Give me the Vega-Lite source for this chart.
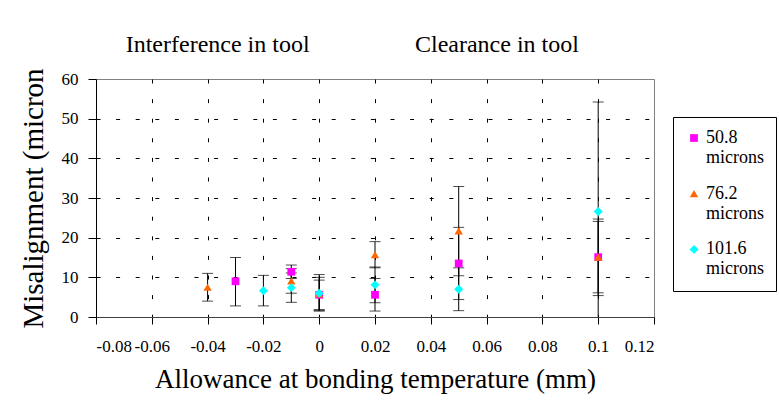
{
  "$schema": "https://vega.github.io/schema/vega-lite/v6.json",
  "width": 558,
  "height": 238,
  "autosize": {"type": "none"},
  "padding": {"left": 96, "top": 79, "right": 125, "bottom": 86},
  "background": "white",
  "config": {
    "font": "Liberation Serif",
    "view": {"stroke": "#808080", "strokeWidth": 1},
    "text": {"font": "Liberation Serif"},
    "legend": {"labelFont": "Liberation Serif", "titleFont": "Liberation Serif"},
    "axis": {
      "labelFont": "Liberation Serif",
      "titleFont": "Liberation Serif",
      "labelColor": "black",
      "titleColor": "black",
      "titleFontWeight": "normal",
      "labelFontSize": 17,
      "tickColor": "black",
      "gridDash": [4, 15.6],
      "gridWidth": 1,
      "labelOverlap": false
    },
    "axisX": {
      "labelFont": "Liberation Serif",
      "titleFont": "Liberation Serif",
      "domainColor": "#404040",
      "tickSize": 7,
      "labelPadding": 14,
      "titleFontSize": 27,
      "titlePadding": 12
    },
    "axisY": {
      "labelFont": "Liberation Serif",
      "titleFont": "Liberation Serif",
      "domainColor": "black",
      "tickSize": 8,
      "labelPadding": 10,
      "titleFontSize": 29,
      "titlePadding": 13
    }
  },
  "datasets": {
    "points": [
      {"s": "50.8 microns", "x": -0.03, "y": 9.0, "lo": 2.8, "hi": 15.0},
      {"s": "50.8 microns", "x": -0.01, "y": 11.4, "lo": 9.7, "hi": 13.1},
      {"s": "50.8 microns", "x": 0, "y": 5.6, "lo": 1.9, "hi": 9.3},
      {"s": "50.8 microns", "x": 0.02, "y": 5.6, "lo": 1.5, "hi": 9.7},
      {"s": "50.8 microns", "x": 0.05, "y": 13.5, "lo": 4.4, "hi": 22.6},
      {"s": "50.8 microns", "x": 0.1, "y": 15.1, "lo": 6.1, "hi": 24.1},
      {"s": "76.2 microns", "x": -0.04, "y": 7.5, "lo": 4.0, "hi": 11.0},
      {"s": "76.2 microns", "x": -0.01, "y": 9.1, "lo": 6.0, "hi": 12.2},
      {"s": "76.2 microns", "x": 0, "y": 5.8, "lo": 1.6, "hi": 10.0},
      {"s": "76.2 microns", "x": 0.02, "y": 15.7, "lo": 12.4, "hi": 19.0},
      {"s": "76.2 microns", "x": 0.05, "y": 21.7, "lo": 10.4, "hi": 32.9},
      {"s": "76.2 microns", "x": 0.1, "y": 15.1, "lo": 5.4, "hi": 24.7},
      {"s": "101.6 microns", "x": -0.02, "y": 6.6, "lo": 2.8, "hi": 10.5},
      {"s": "101.6 microns", "x": -0.01, "y": 7.4, "lo": 3.7, "hi": 11.1},
      {"s": "101.6 microns", "x": 0, "y": 6.0, "lo": 1.5, "hi": 10.7},
      {"s": "101.6 microns", "x": 0.02, "y": 8.1, "lo": 3.6, "hi": 12.6},
      {"s": "101.6 microns", "x": 0.05, "y": 7.0, "lo": 1.6, "hi": 12.4},
      {"s": "101.6 microns", "x": 0.1, "y": 26.6, "lo": -1.0, "hi": 54.2}
    ],
    "notes": [
      {"t": "Interference in tool", "x": -0.0364, "y": 68.6},
      {"t": "Clearance in tool", "x": 0.0637, "y": 68.6}
    ]
  },
  "layer": [
    {
      "data": {"name": "points"},
      "mark": {"type": "rule", "color": "black", "strokeWidth": 1, "clip": true},
      "encoding": {
        "x": {
          "field": "x", "type": "quantitative",
          "title": "Allowance at bonding temperature (mm)",
          "scale": {"domain": [-0.08, 0.12], "nice": false, "zero": false},
          "axis": {
            "values": [-0.08, -0.06, -0.04, -0.02, 0, 0.02, 0.04, 0.06, 0.08, 0.1, 0.12],
            "labelExpr": "toString(datum.value)",
            "labelFont": "Liberation Serif",
            "grid": true,
            "gridColor": {"condition": {"test": "datum.value <= -0.079 || datum.value >= 0.119", "value": "transparent"}, "value": "black"}
          }
        },
        "y": {
          "field": "lo", "type": "quantitative",
          "title": "Misalignment (micron",
          "scale": {"domain": [0, 60], "nice": false, "zero": false},
          "axis": {
            "values": [0, 10, 20, 30, 40, 50, 60],
            "labelFont": "Liberation Serif",
            "grid": true,
            "gridColor": {"condition": {"test": "datum.value <= 0 || datum.value >= 60", "value": "transparent"}, "value": "black"}
          }
        },
        "y2": {"field": "hi"}
      }
    },
    {
      "data": {"name": "points"},
      "mark": {"type": "tick", "orient": "horizontal", "size": 11, "thickness": 1, "color": "black", "clip": true},
      "encoding": {
        "x": {
          "field": "x", "type": "quantitative",
          "title": "Allowance at bonding temperature (mm)",
          "scale": {"domain": [-0.08, 0.12], "nice": false, "zero": false},
          "axis": {
            "values": [-0.08, -0.06, -0.04, -0.02, 0, 0.02, 0.04, 0.06, 0.08, 0.1, 0.12],
            "labelExpr": "toString(datum.value)",
            "labelFont": "Liberation Serif",
            "grid": true,
            "gridColor": {"condition": {"test": "datum.value <= -0.079 || datum.value >= 0.119", "value": "transparent"}, "value": "black"}
          }
        },
        "y": {
          "field": "lo", "type": "quantitative",
          "title": "Misalignment (micron",
          "scale": {"domain": [0, 60], "nice": false, "zero": false},
          "axis": {
            "values": [0, 10, 20, 30, 40, 50, 60],
            "labelFont": "Liberation Serif",
            "grid": true,
            "gridColor": {"condition": {"test": "datum.value <= 0 || datum.value >= 60", "value": "transparent"}, "value": "black"}
          }
        }
      }
    },
    {
      "data": {"name": "points"},
      "mark": {"type": "tick", "orient": "horizontal", "size": 11, "thickness": 1, "color": "black", "clip": true},
      "encoding": {
        "x": {
          "field": "x", "type": "quantitative",
          "title": "Allowance at bonding temperature (mm)",
          "scale": {"domain": [-0.08, 0.12], "nice": false, "zero": false},
          "axis": {
            "values": [-0.08, -0.06, -0.04, -0.02, 0, 0.02, 0.04, 0.06, 0.08, 0.1, 0.12],
            "labelExpr": "toString(datum.value)",
            "labelFont": "Liberation Serif",
            "grid": true,
            "gridColor": {"condition": {"test": "datum.value <= -0.079 || datum.value >= 0.119", "value": "transparent"}, "value": "black"}
          }
        },
        "y": {
          "field": "hi", "type": "quantitative",
          "title": "Misalignment (micron",
          "scale": {"domain": [0, 60], "nice": false, "zero": false},
          "axis": {
            "values": [0, 10, 20, 30, 40, 50, 60],
            "labelFont": "Liberation Serif",
            "grid": true,
            "gridColor": {"condition": {"test": "datum.value <= 0 || datum.value >= 60", "value": "transparent"}, "value": "black"}
          }
        }
      }
    },
    {
      "data": {"name": "points"},
      "mark": {"type": "point", "filled": true, "opacity": 1, "strokeWidth": 0},
      "encoding": {
        "x": {
          "field": "x", "type": "quantitative",
          "title": "Allowance at bonding temperature (mm)",
          "scale": {"domain": [-0.08, 0.12], "nice": false, "zero": false},
          "axis": {
            "values": [-0.08, -0.06, -0.04, -0.02, 0, 0.02, 0.04, 0.06, 0.08, 0.1, 0.12],
            "labelExpr": "toString(datum.value)",
            "labelFont": "Liberation Serif",
            "grid": true,
            "gridColor": {"condition": {"test": "datum.value <= -0.079 || datum.value >= 0.119", "value": "transparent"}, "value": "black"}
          }
        },
        "y": {
          "field": "y", "type": "quantitative",
          "title": "Misalignment (micron",
          "scale": {"domain": [0, 60], "nice": false, "zero": false},
          "axis": {
            "values": [0, 10, 20, 30, 40, 50, 60],
            "labelFont": "Liberation Serif",
            "grid": true,
            "gridColor": {"condition": {"test": "datum.value <= 0 || datum.value >= 60", "value": "transparent"}, "value": "black"}
          }
        },
        "color": {
          "field": "s", "type": "nominal",
          "scale": {"domain": ["50.8 microns", "76.2 microns", "101.6 microns"], "range": ["#FF00FF", "#FF6600", "#00FFFF"]},
          "legend": {
            "orient": "none",
            "legendX": 577,
            "legendY": 38,
            "title": null,
            "labelFont": "Liberation Serif",
            "labelFontSize": 18,
            "labelColor": "black",
            "labelExpr": "split(datum.label, ' ')",
            "labelLimit": 200,
            "labelOffset": 3,
            "strokeColor": "black",
            "fillColor": "white",
            "padding": 12,
            "rowPadding": 17.7,
            "symbolSize": 55,
            "symbolStrokeWidth": 0
          }
        },
        "shape": {
          "field": "s", "type": "nominal",
          "scale": {"domain": ["50.8 microns", "76.2 microns", "101.6 microns"], "range": ["square", "triangle-up", "diamond"]}
        },
        "size": {
          "field": "s", "type": "nominal",
          "scale": {"domain": ["50.8 microns", "76.2 microns", "101.6 microns"], "range": [60, 80, 70]},
          "legend": null
        }
      }
    },
    {
      "data": {"name": "notes"},
      "mark": {"type": "text", "font": "Liberation Serif", "fontSize": 24, "color": "black", "baseline": "middle", "align": "center"},
      "encoding": {
        "x": {
          "field": "x", "type": "quantitative",
          "title": "Allowance at bonding temperature (mm)",
          "scale": {"domain": [-0.08, 0.12], "nice": false, "zero": false},
          "axis": {
            "values": [-0.08, -0.06, -0.04, -0.02, 0, 0.02, 0.04, 0.06, 0.08, 0.1, 0.12],
            "labelExpr": "toString(datum.value)",
            "labelFont": "Liberation Serif",
            "grid": true,
            "gridColor": {"condition": {"test": "datum.value <= -0.079 || datum.value >= 0.119", "value": "transparent"}, "value": "black"}
          }
        },
        "y": {
          "field": "y", "type": "quantitative",
          "title": "Misalignment (micron",
          "scale": {"domain": [0, 60], "nice": false, "zero": false},
          "axis": {
            "values": [0, 10, 20, 30, 40, 50, 60],
            "labelFont": "Liberation Serif",
            "grid": true,
            "gridColor": {"condition": {"test": "datum.value <= 0 || datum.value >= 60", "value": "transparent"}, "value": "black"}
          }
        },
        "text": {"field": "t"}
      }
    }
  ]
}
